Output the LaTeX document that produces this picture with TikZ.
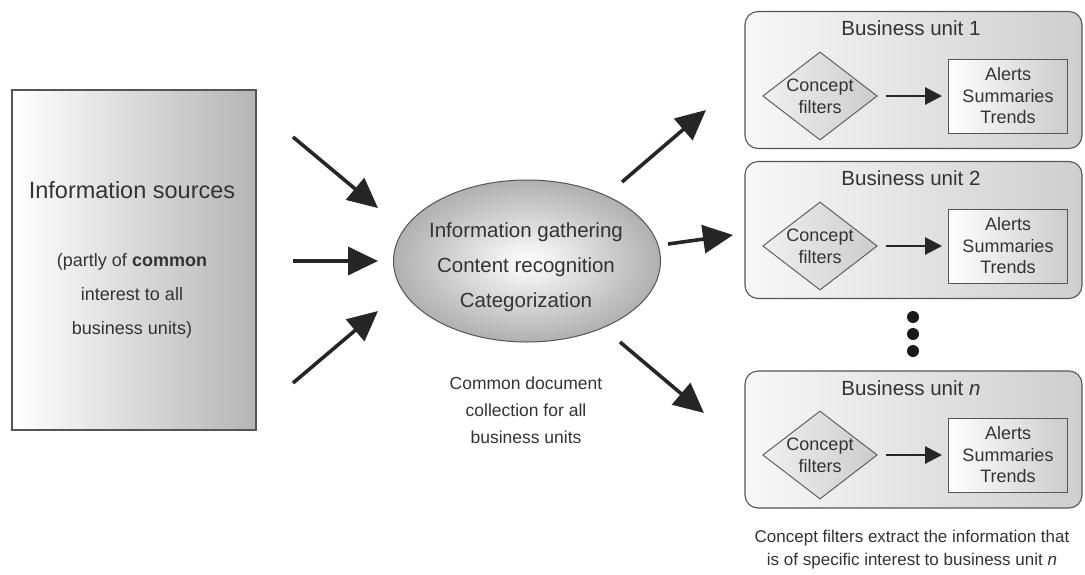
\documentclass[tikz,border=0pt]{standalone}
\usepackage{fontspec}
\setmainfont{Liberation Sans}
\usepackage{tikz}
\usetikzlibrary{shapes.geometric}
\usetikzlibrary{arrows.meta}

\definecolor{txt}{HTML}{333333}
\definecolor{edge}{HTML}{555555}

\begin{document}
\begin{tikzpicture}[
        x=1pt, y=-1pt,
        every node/.style={text=txt},
        bigarrow/.style={-{Triangle[length=30pt,width=28pt]}, line width=3.6pt, draw=black!85},
        smallarrow/.style={-{Triangle[length=17pt,width=17pt]}, line width=2.8pt, draw=black!85},
        unitbox/.style={draw=edge, line width=1.1pt, rounded corners=13pt,
              left color=gray!6, right color=gray!38,
              minimum width=337pt, minimum height=137pt, inner sep=0pt},
        filter/.style={diamond, draw=edge, line width=0.9pt, aspect=1.3, inner sep=0.5pt,
              left color=gray!12, right color=gray!40, align=center,
              font=\fontsize{18}{22}\selectfont},
        result/.style={rectangle, draw=edge, line width=0.9pt,
              left color=white, right color=gray!40, align=center,
              minimum width=119pt, minimum height=74pt, inner sep=0pt,
              font=\fontsize{18}{21.5}\selectfont},
        unittitle/.style={font=\fontsize{20.5}{24}\selectfont},
        dot/.style = {circle, fill=black!90, minimum size=#1,
              inner sep=0pt, outer sep=0pt},
        dot/.default = 12pt,
    ]
    \useasboundingbox (0,0) rectangle (1085,574);

    % Information sources
    \node[draw=edge, line width=1.2pt, left color=white, right color=gray!58,
          minimum width=244pt, minimum height=340pt, inner sep=0pt] (src) at (134,260) {};
    \node[font=\fontsize{23.5}{28}\selectfont] (srctitle) at (132,190) {Information sources};
    \node[align=center, font=\fontsize{18}{34}\selectfont] (srcnote) at (132,296)
        {(partly of \textbf{common}\\interest to all\\business units)};

    % Central process
    \node[ellipse, draw=edge, line width=1pt, shading=radial, inner color=white, outer color=gray!62,
          minimum width=267pt, minimum height=162pt, inner sep=0pt] (proc) at (527,261) {};
    \node[align=center, font=\fontsize{20.5}{35}\selectfont] (proctext) at (526,267)
        {Information gathering\\Content recognition\\Categorization};
    \node[align=center, font=\fontsize{17.5}{27}\selectfont] (procnote) at (526,410)
        {Common document\\collection for all\\business units};

    % incoming arrows
    \coordinate (inA) at (293,137); \coordinate (inAe) at (378,208);
    \coordinate (inB) at (293,261); \coordinate (inBe) at (378,261);
    \coordinate (inC) at (293,383); \coordinate (inCe) at (378,311);
    \draw[bigarrow] (inA) -- (inAe);
    \draw[bigarrow] (inB) -- (inBe);
    \draw[bigarrow] (inC) -- (inCe);

    % outgoing arrows
    \coordinate (outA) at (622,182); \coordinate (outAe) at (706,110);
    \coordinate (outB) at (668,244); \coordinate (outBe) at (733,235);
    \coordinate (outC) at (620,342); \coordinate (outCe) at (704,413);
    \draw[bigarrow] (outA) -- (outAe);
    \draw[bigarrow] (outB) -- (outBe);
    \draw[bigarrow] (outC) -- (outCe);

    % Business unit 1
    \node[unitbox] (unit1) at (913.5,80) {};
    \node[unittitle] (title1) at (911,28) {Business unit 1};
    \node[filter] (filt1) at (820,96) {Concept\\filters};
    \node[result] (res1) at (1008,96) {Alerts\\Summaries\\Trends};
    \draw[smallarrow, shorten <=8pt, shorten >=6pt] (filt1.east) -- (res1.west);

    % Business unit 2
    \node[unitbox] (unit2) at (913.5,230) {};
    \node[unittitle] (title2) at (911,178) {Business unit 2};
    \node[filter] (filt2) at (820,246) {Concept\\filters};
    \node[result] (res2) at (1008,246) {Alerts\\Summaries\\Trends};
    \draw[smallarrow, shorten <=8pt, shorten >=6pt] (filt2.east) -- (res2.west);

    % more units
    \node[dot] (dotA) at (913,317) {};
    \node[dot] (dotB) at (913,334) {};
    \node[dot] (dotC) at (913,351) {};

    % Business unit n
    \node[unitbox] (unitn) at (913.5,439.5) {};
    \node[unittitle] (titlen) at (911,388) {Business unit \textit{n}};
    \node[filter] (filtn) at (820,455) {Concept\\filters};
    \node[result] (resn) at (1008,455) {Alerts\\Summaries\\Trends};
    \draw[smallarrow, shorten <=8pt, shorten >=6pt] (filtn.east) -- (resn.west);

    \node[align=center, font=\fontsize{17}{23}\selectfont] (caption) at (912,550)
        {Concept filters extract the information that\\is of specific interest to business unit \textit{n}};
\end{tikzpicture}
\end{document}
